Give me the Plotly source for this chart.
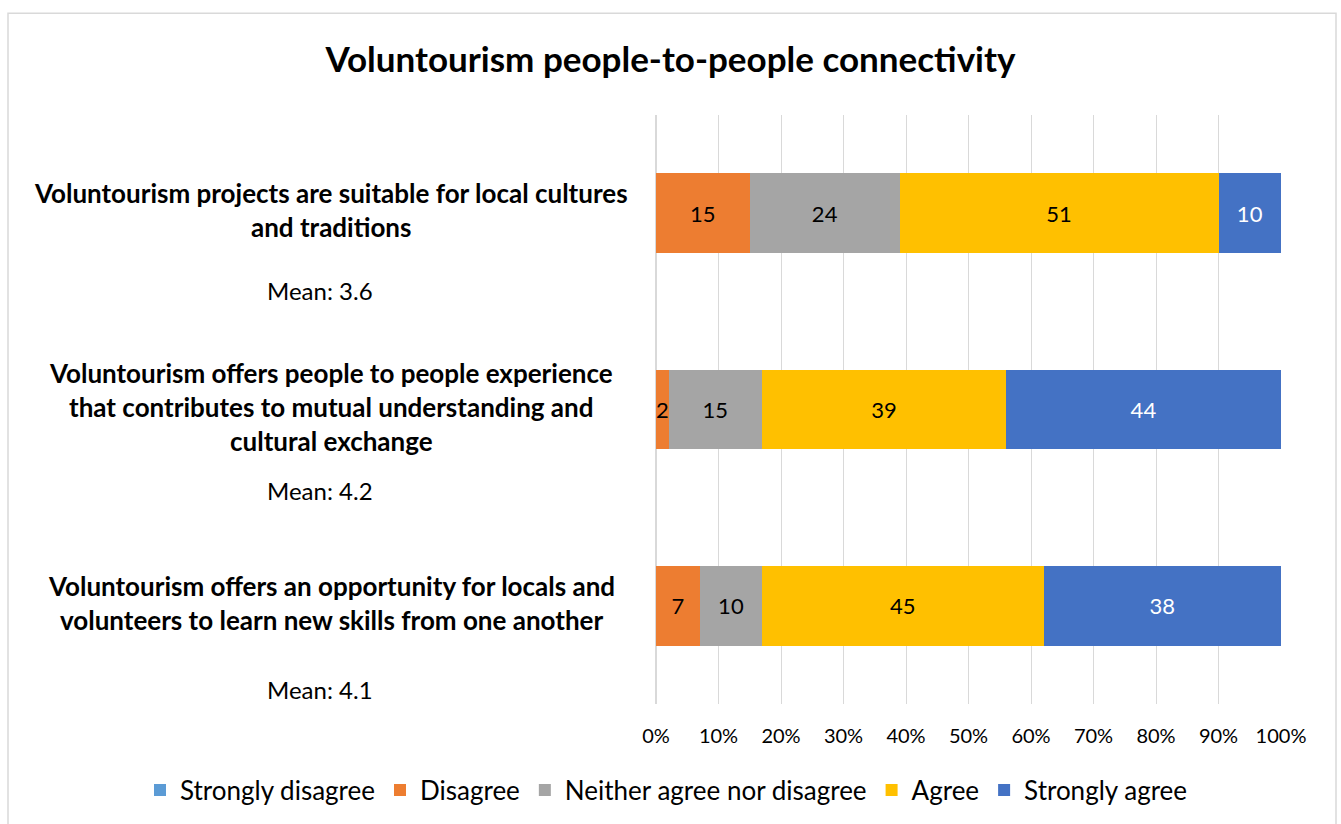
import plotly.graph_objects as go

# ---- data ----
statements = ["suitable", "experience", "skills"]
statement_lines = [
    ["Voluntourism projects are suitable for local cultures", "and traditions"],
    ["Voluntourism offers people to people experience",
     "that contributes to mutual understanding and", "cultural exchange"],
    ["Voluntourism offers an opportunity for locals and",
     "volunteers to learn new skills from one another"],
]
means = ["Mean: 3.6", "Mean: 4.2", "Mean: 4.1"]

series_names = ["Strongly disagree", "Disagree", "Neither agree nor disagree", "Agree", "Strongly agree"]
strongly_disagree = [0, 0, 0]
disagree = [15, 2, 7]
neither = [24, 15, 10]
agree = [51, 39, 45]
strongly_agree = [10, 44, 38]

x_ticks = [0, 10, 20, 30, 40, 50, 60, 70, 80, 90, 100]
x_tick_labels = ["0%", "10%", "20%", "30%", "40%", "50%", "60%", "70%", "80%", "90%", "100%"]

# ---- styles ----
colors = ["#5B9BD5", "#ED7D31", "#A5A5A5", "#FFC000", "#4472C4"]
text_colors = ["black", "black", "black", "black", "white"]
mean_offsets = [-77, -81, -84]
line_gap = 34
label_lift = 3

W, H = 1341, 824
L, R, T, B = 656, 60, 115, 119
FONT = "Lato"

fig = go.Figure()
all_series = [strongly_disagree, disagree, neither, agree, strongly_agree]
for name, vals, col, tc in zip(series_names, all_series, colors, text_colors):
    fig.add_trace(go.Bar(
        y=statements, x=vals, orientation="h", name=name,
        marker=dict(color=col, line=dict(width=0)),
        text=[str(v) if v else "" for v in vals],
        textposition="inside", insidetextanchor="middle",
        textfont=dict(color=tc, size=22, family=FONT),
        hoverinfo="skip",
    ))

pw = W - L - R
ph = H - T - B
label_center_x = (331 - L) / pw
mean_center_x = (320 - L) / pw

annotations = []
for cat, lines, mean, moff in zip(statements, statement_lines, means, mean_offsets):
    n = len(lines)
    for i, ln in enumerate(lines):
        annotations.append(dict(
            x=label_center_x, xref="paper", y=cat, yref="y",
            text="<b>" + ln + "</b>", showarrow=False, xanchor="center", yanchor="middle",
            yshift=-(i - (n - 1) / 2) * line_gap + label_lift,
            font=dict(family=FONT, size=26, color="black"),
        ))
    annotations.append(dict(
        x=mean_center_x, xref="paper", y=cat, yref="y",
        text=mean, showarrow=False, xanchor="center", yanchor="middle",
        yshift=moff, font=dict(family=FONT, size=24, color="black"),
    ))

fig.update_layout(
    width=W, height=H,
    margin=dict(l=L, r=R, t=T, b=B),
    paper_bgcolor="white", plot_bgcolor="white",
    barmode="stack", bargap=0.593,
    uniformtext=dict(minsize=22, mode="show"),
    font=dict(family=FONT, color="black"),
    title=dict(text="<b>Voluntourism people-to-people connectivity</b>",
               x=0.5, xanchor="center", y=1 - 60 / H, yanchor="middle",
               yref="container", font=dict(family=FONT, size=35, color="black")),
    xaxis=dict(range=[0, 100], tickmode="array", tickvals=x_ticks, ticktext=x_tick_labels,
               showgrid=True, gridcolor="#D9D9D9", gridwidth=1,
               zeroline=True, zerolinecolor="#D9D9D9", showline=False,
               tickfont=dict(size=20, family=FONT, color="black"),
               ticks="", ticklabelstandoff=18, fixedrange=True),
    yaxis=dict(categoryorder="array", categoryarray=statements, autorange="reversed",
               showticklabels=False, showgrid=False, zeroline=False, fixedrange=True),
    legend=dict(orientation="h", xref="paper", x=(140 - L) / pw, xanchor="left",
                yref="paper", y=(T + ph - 790) / ph, yanchor="middle",
                font=dict(size=26, family=FONT, color="black"),
                itemwidth=30, traceorder="normal", itemclick=False,
                bgcolor="rgba(0,0,0,0)"),
    annotations=annotations,
    shapes=[dict(type="rect", xref="paper", yref="paper",
                 x0=(8 - L) / pw, x1=(1336 - L) / pw,
                 y0=(T + ph - 830) / ph, y1=(T + ph - 13) / ph,
                 line=dict(color="#D9D9D9", width=1.5), fillcolor="rgba(0,0,0,0)",
                 layer="below")],
    showlegend=True,
)

fig.write_html("out.html", config={"displayModeBar": False},
               post_script="document.body.style.margin='0';")
